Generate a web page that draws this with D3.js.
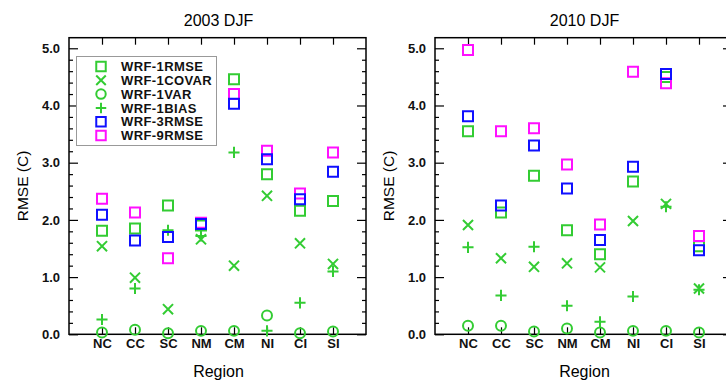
<!DOCTYPE html>
<html>
<head>
<meta charset="utf-8">
<script src="https://cdn.jsdelivr.net/npm/d3@7"></script>
<style>
  body { margin: 0; background: #fff; }
  text { font-family: "Liberation Sans", Arial, sans-serif; }
</style>
</head>
<body>
<svg></svg>
<script>
// regions along the x axis
let regions = ['NC', 'CC', 'SC', 'NM', 'CM', 'NI', 'CI', 'SI']
let yTicks = [0, 1, 2, 3, 4, 5]
let seriesNames = ['WRF-1RMSE', 'WRF-1COVAR', 'WRF-1VAR', 'WRF-1BIAS', 'WRF-3RMSE', 'WRF-9RMSE']

// 2003 DJF
let rmse1_2003 = [1.81, 1.85, 2.25, 1.90, 4.46, 2.80, 2.16, 2.33]
let covar1_2003 = [1.54, 0.99, 0.44, 1.66, 1.20, 2.42, 1.59, 1.23]
let var1_2003 = [0.03, 0.08, 0.02, 0.06, 0.06, 0.33, 0.02, 0.05]
let bias1_2003 = [0.26, 0.80, 1.82, 1.72, 3.18, 0.06, 0.55, 1.10]
let rmse3_2003 = [2.09, 1.64, 1.70, 1.93, 4.03, 3.06, 2.36, 2.84]
let rmse9_2003 = [2.37, 2.13, 1.33, 1.95, 4.20, 3.21, 2.46, 3.18]

// 2010 DJF
let rmse1_2010 = [3.55, 2.13, 2.77, 1.82, 1.40, 2.67, 4.50, 1.54]
let covar1_2010 = [1.91, 1.33, 1.18, 1.24, 1.17, 1.98, 2.28, 0.80]
let var1_2010 = [0.15, 0.15, 0.05, 0.10, 0.03, 0.06, 0.06, 0.03]
let bias1_2010 = [1.52, 0.68, 1.53, 0.50, 0.22, 0.66, 2.23, 0.78]
let rmse3_2010 = [3.81, 2.25, 3.30, 2.55, 1.65, 2.93, 4.55, 1.47]
let rmse9_2010 = [4.97, 3.55, 3.60, 2.97, 1.92, 4.59, 4.39, 1.72]

let width = 726
let height = 381

let green = '#33cc33'
let blue = '#1010ff'
let magenta = '#ff10ff'

let svg = d3.select('svg')
    .attr('width', width)
    .attr('height', height)

// marker shapes for each series
let shapes = [
    {type: d3.symbolSquare, size: 100, color: green},
    {type: d3.symbolTimes, size: 68, color: green},
    {type: d3.symbolCircle, size: 78, color: green},
    {type: d3.symbolPlus, size: 42, color: green},
    {type: d3.symbolSquare, size: 100, color: blue},
    {type: d3.symbolSquare, size: 100, color: magenta}
]

let drawPanel = (x0, title, series, withLegend) => {
    let x1 = x0 + 297
    let yBottom = 334.3
    let yTop = 37.7

    let xScale = d3.scalePoint()
        .domain(regions)
        .range([x0, x1])
        .padding(1)

    let yScale = d3.scaleLinear()
        .domain([0, 5.185])
        .range([yBottom, yTop])

    let g = svg.append('g')

    let minor = d3.range(0, 5.2, 0.2).filter(v => Math.abs(v - Math.round(v)) > 0.01)

    // left axis
    let leftAxis = g.append('g')
        .attr('transform', 'translate(' + x0 + ',0)')
        .call(d3.axisLeft(yScale).tickValues(yTicks).tickSize(-9).tickPadding(9).tickFormat(d3.format('.1f')))
    leftAxis.selectAll('text').style('font-size', '13px').style('font-weight', 'bold').attr('fill', '#111')
    g.append('g')
        .attr('transform', 'translate(' + x0 + ',0)')
        .call(d3.axisLeft(yScale).tickValues(minor).tickSize(-4).tickFormat(''))

    // right axis
    g.append('g')
        .attr('transform', 'translate(' + x1 + ',0)')
        .call(d3.axisRight(yScale).tickValues(yTicks).tickSize(-9).tickFormat(''))
    g.append('g')
        .attr('transform', 'translate(' + x1 + ',0)')
        .call(d3.axisRight(yScale).tickValues(minor).tickSize(-4).tickFormat(''))

    // top axis
    g.append('g')
        .attr('transform', 'translate(0,' + yTop + ')')
        .call(d3.axisTop(xScale).tickSize(-7).tickFormat(''))

    // bottom axis
    let bottomAxis = g.append('g')
        .attr('transform', 'translate(0,' + yBottom + ')')
        .call(d3.axisBottom(xScale).tickSize(-7).tickPadding(4))
    bottomAxis.selectAll('text').style('font-size', '13px').style('font-weight', 'bold').attr('fill', '#111')

    g.selectAll('.domain').remove()
    g.selectAll('.tick line').attr('stroke-width', 1.2)

    // frame
    g.append('rect')
        .attr('x', x0)
        .attr('y', yTop)
        .attr('width', x1 - x0)
        .attr('height', yBottom - yTop)
        .attr('fill', 'none')
        .attr('stroke', '#000')
        .attr('stroke-width', 1.5)

    // titles
    g.append('text')
        .attr('x', (x0 + x1) / 2 + 1)
        .attr('y', 26)
        .attr('text-anchor', 'middle')
        .style('font-size', '16px')
        .text(title)
    g.append('text')
        .attr('x', (x0 + x1) / 2 + 1)
        .attr('y', 377)
        .attr('text-anchor', 'middle')
        .style('font-size', '16px')
        .text('Region')
    g.append('text')
        .attr('transform', 'translate(' + (x0 - 41) + ',' + ((yTop + yBottom) / 2) + ') rotate(-90)')
        .attr('text-anchor', 'middle')
        .style('font-size', '15.5px')
        .text('RMSE (C)')

    // markers: green series first, then magenta, then blue
    let order = [0, 1, 2, 3, 5, 4]
    order.forEach(i => {
        let s = shapes[i]
        g.selectAll('.m' + i)
            .data(series[i])
            .enter()
            .append('path')
            .attr('class', 'm' + i)
            .attr('d', d3.symbol().type(s.type).size(s.size))
            .attr('transform', (d, j) => 'translate(' + xScale(regions[j]) + ',' + yScale(d) + ')')
            .attr('fill', 'none')
            .attr('stroke', s.color)
            .attr('stroke-width', 2)
    })

    if (withLegend) {
        let legend = g.append('g')
        legend.append('rect')
            .attr('x', 76.5)
            .attr('y', 56.5)
            .attr('width', 140)
            .attr('height', 89)
            .attr('fill', '#fff')
            .attr('stroke', '#999')
            .attr('stroke-width', 1)
        seriesNames.forEach((name, i) => {
            let s = shapes[i]
            let ly = 66.5 + i * 13.8
            legend.append('path')
                .attr('d', d3.symbol().type(s.type).size(s.size * 0.9))
                .attr('transform', 'translate(101,' + ly + ')')
                .attr('fill', 'none')
                .attr('stroke', s.color)
                .attr('stroke-width', 2)
            legend.append('text')
                .attr('x', 121)
                .attr('y', ly)
                .attr('dy', '0.36em')
                .style('font-size', '13px')
                .style('font-weight', 'bold')
                .style('letter-spacing', '0.4px')
                .attr('fill', '#111')
                .text(name)
        })
    }
}

drawPanel(69, '2003 DJF', [rmse1_2003, covar1_2003, var1_2003, bias1_2003, rmse3_2003, rmse9_2003], true)
drawPanel(435, '2010 DJF', [rmse1_2010, covar1_2010, var1_2010, bias1_2010, rmse3_2010, rmse9_2010], false)
</script>
</body>
</html>
